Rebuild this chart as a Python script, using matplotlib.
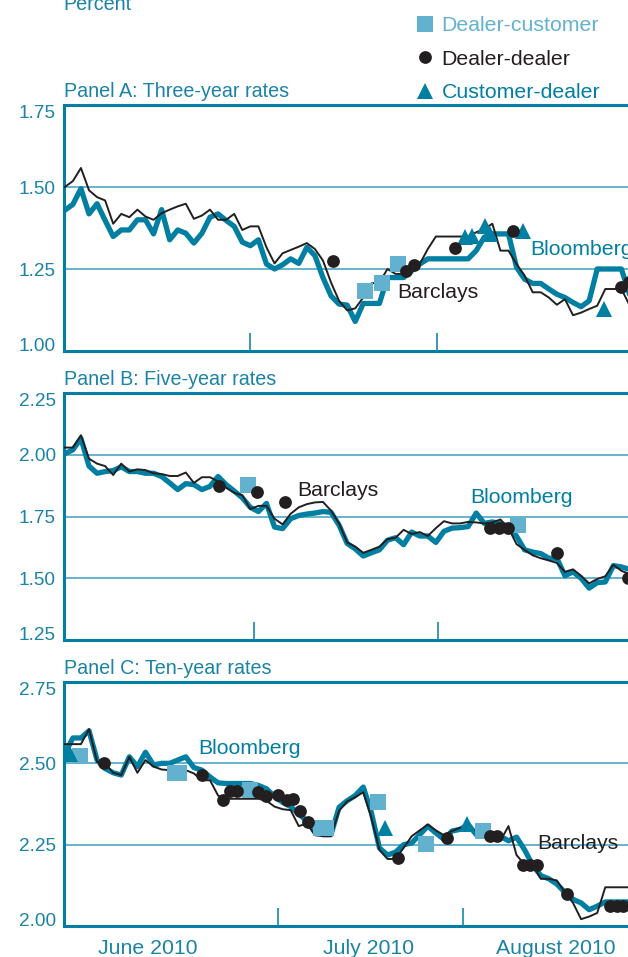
import numpy as np
import matplotlib
matplotlib.use("Agg")
import matplotlib.pyplot as plt

plt.rcParams['font.family'] = ['Liberation Sans', 'DejaVu Sans']

# colours
TEAL = '#007fa3'
LIGHT = '#62b2cf'
GRID = '#3d9fbe'
TEXT = '#1b83a6'
BLACK = '#231f20'

# trading days, late May to mid August 2010
days = np.arange(71)
month_names = ['June 2010', 'July 2010', 'August 2010']
month_label_pos = [10.3, 37.6, 60.8]

# Panel A: three-year rates
a_bloomberg = [1.429, 1.447, 1.495, 1.418, 1.449, 1.398, 1.349, 1.369, 1.369, 1.400,
               1.400, 1.357, 1.431, 1.339, 1.369, 1.359, 1.329, 1.359, 1.408, 1.418,
               1.398, 1.380, 1.332, 1.321, 1.339, 1.265, 1.250, 1.263, 1.281, 1.267,
               1.316, 1.291, 1.224, 1.168, 1.143, 1.140, 1.090, 1.145, 1.145, 1.145,
               1.224, 1.224, 1.224, 1.245, 1.265, 1.281, 1.281, 1.281, 1.281, 1.281,
               1.281, 1.306, 1.347, 1.357, 1.357, 1.357, 1.255, 1.219, 1.206, 1.206,
               1.189, 1.173, 1.163, 1.148, 1.135, 1.153, 1.250, 1.250, 1.250, 1.250,
               1.173]
a_barclays = [1.500, 1.518, 1.558, 1.490, 1.469, 1.459, 1.388, 1.418, 1.408, 1.431,
              1.410, 1.400, 1.420, 1.431, 1.441, 1.449, 1.403, 1.413, 1.431, 1.400,
              1.400, 1.418, 1.369, 1.380, 1.380, 1.316, 1.267, 1.298, 1.308, 1.318,
              1.329, 1.311, 1.276, 1.209, 1.153, 1.124, 1.130, 1.163, 1.206, 1.209,
              1.250, 1.235, 1.235, 1.260, 1.265, 1.311, 1.349, 1.349, 1.349, 1.349,
              1.349, 1.362, 1.372, 1.388, 1.306, 1.306, 1.265, 1.230, 1.179, 1.179,
              1.163, 1.141, 1.158, 1.109, 1.117, 1.128, 1.138, 1.189, 1.189, 1.189,
              1.140]
a_dc_x = [37.2, 39.3, 41.3]
a_dc_y = [1.182, 1.206, 1.265]
a_dd_x = [33.2, 42.3, 43.3, 48.4, 55.5, 68.9, 70.0]
a_dd_y = [1.274, 1.243, 1.263, 1.314, 1.365, 1.194, 1.210]
a_cd_x = [49.6, 50.5, 52.1, 52.7, 56.8, 66.8]
a_cd_y = [1.347, 1.350, 1.380, 1.357, 1.367, 1.128]

# Panel B: five-year rates
b_bloomberg = [2.004, 2.020, 2.066, 1.954, 1.925, 1.932, 1.936, 1.951, 1.932, 1.932,
               1.925, 1.925, 1.912, 1.886, 1.859, 1.883, 1.879, 1.859, 1.872, 1.912,
               1.879, 1.853, 1.826, 1.787, 1.770, 1.803, 1.707, 1.701, 1.741, 1.754,
               1.760, 1.764, 1.770, 1.767, 1.715, 1.641, 1.619, 1.590, 1.603, 1.615,
               1.654, 1.664, 1.636, 1.687, 1.671, 1.671, 1.645, 1.690, 1.703, 1.705,
               1.709, 1.764, 1.722, 1.728, 1.722, 1.709, 1.670, 1.615, 1.606, 1.600,
               1.581, 1.581, 1.510, 1.526, 1.500, 1.460, 1.482, 1.485, 1.551, 1.546,
               1.536]
b_barclays = [2.029, 2.029, 2.079, 1.984, 1.964, 1.954, 1.918, 1.964, 1.932, 1.941,
              1.938, 1.925, 1.922, 1.914, 1.914, 1.928, 1.886, 1.909, 1.909, 1.892,
              1.866, 1.846, 1.836, 1.780, 1.793, 1.793, 1.741, 1.718, 1.761, 1.787,
              1.800, 1.807, 1.809, 1.774, 1.722, 1.645, 1.628, 1.603, 1.615, 1.628,
              1.658, 1.664, 1.696, 1.679, 1.687, 1.671, 1.703, 1.731, 1.722, 1.722,
              1.728, 1.726, 1.722, 1.726, 1.738, 1.703, 1.638, 1.615, 1.593, 1.581,
              1.572, 1.562, 1.526, 1.536, 1.510, 1.479, 1.497, 1.508, 1.555, 1.530,
              1.517]
b_dc_x = [22.7, 56.2]
b_dc_y = [1.879, 1.714]
b_dd_x = [19.15, 23.8, 27.3, 52.7, 53.8, 54.9, 61.0, 69.8]
b_dd_y = [1.875, 1.849, 1.809, 1.703, 1.703, 1.703, 1.604, 1.500]
b_cd_x = []
b_cd_y = []

# Panel C: ten-year rates
c_bloomberg = [2.529, 2.578, 2.578, 2.600, 2.510, 2.484, 2.471, 2.464, 2.520, 2.490,
               2.534, 2.495, 2.500, 2.500, 2.510, 2.520, 2.487, 2.479, 2.458, 2.440,
               2.438, 2.438, 2.438, 2.438, 2.432, 2.422, 2.398, 2.380, 2.367, 2.344,
               2.323, 2.297, 2.281, 2.281, 2.365, 2.385, 2.401, 2.427, 2.349, 2.240,
               2.218, 2.227, 2.250, 2.255, 2.281, 2.307, 2.286, 2.266, 2.292, 2.297,
               2.312, 2.281, 2.276, 2.273, 2.276, 2.262, 2.273, 2.234, 2.187, 2.155,
               2.145, 2.129, 2.103, 2.082, 2.071, 2.050, 2.061, 2.074, 2.074, 2.074,
               2.074]
c_barclays = [2.559, 2.559, 2.559, 2.605, 2.505, 2.500, 2.471, 2.464, 2.520, 2.471,
              2.510, 2.490, 2.481, 2.479, 2.479, 2.479, 2.469, 2.448, 2.448, 2.401,
              2.391, 2.391, 2.391, 2.391, 2.391, 2.385, 2.367, 2.359, 2.356, 2.307,
              2.315, 2.279, 2.276, 2.276, 2.354, 2.383, 2.396, 2.411, 2.333, 2.234,
              2.206, 2.206, 2.240, 2.276, 2.294, 2.312, 2.294, 2.279, 2.292, 2.302,
              2.297, 2.292, 2.281, 2.271, 2.262, 2.307, 2.218, 2.189, 2.189, 2.145,
              2.145, 2.140, 2.103, 2.071, 2.021, 2.029, 2.040, 2.119, 2.119, 2.119,
              2.119]
c_dc_x = [1.86, 13.6, 14.2, 23.0, 31.8, 32.4, 38.8, 44.8, 51.8]
c_dc_y = [2.524, 2.471, 2.471, 2.419, 2.302, 2.302, 2.380, 2.252, 2.292]
c_dd_x = [4.84, 16.96, 19.6, 20.5, 21.4, 23.98, 25.0, 26.4, 27.5, 28.3, 29.1, 30.1,
          41.3, 47.4, 52.7, 53.6, 56.8, 57.7, 58.5, 62.2, 67.6, 68.4, 69.2]
c_dd_y = [2.500, 2.464, 2.388, 2.415, 2.415, 2.411, 2.401, 2.404, 2.388, 2.391, 2.354, 2.321,
          2.208, 2.271, 2.278, 2.276, 2.189, 2.189, 2.189, 2.098, 2.061, 2.061, 2.061]
c_cd_x = [0.6, 39.7, 49.8]
c_cd_y = [2.530, 2.302, 2.312]

W, H = 628.0, 957.0
fig = plt.figure(figsize=(W / 100, H / 100), dpi=100)


def panel(top, bottom, title, bloom, barc, dc, dd, cd, ylim, month_ticks, notes):
    ax = fig.add_axes([64 / W, 1 - bottom / H, 580 / W, (bottom - top) / H])
    ax.plot(days, bloom, color=TEAL, lw=3.8, zorder=3)
    ax.plot(days, barc, color=BLACK, lw=1.4, zorder=4)
    h_dc, = ax.plot(dc[0], dc[1], ls='none', marker='s', ms=11.5, mew=0, color=LIGHT, zorder=5)
    h_dd, = ax.plot(dd[0], dd[1], ls='none', marker='o', ms=9.2, mew=0, color=BLACK, zorder=6)
    h_cd, = ax.plot(cd[0], cd[1], ls='none', marker='^', ms=11, mew=0, color=TEAL, zorder=5)

    ax.set_xlim(-0.1, 71.8)
    ax.set_ylim(*ylim)
    yt = np.arange(ylim[0], ylim[1] + 0.01, 0.25)
    ax.set_yticks(yt, ['%.2f' % v for v in yt])
    labs = ax.get_yticklabels()
    labs[0].set_va('baseline')
    labs[-1].set_va('top')
    ax.tick_params(axis='y', length=0, pad=6, labelsize=13.7, labelcolor=TEXT)
    ax.yaxis.grid(True, color=GRID, lw=1.1)
    ax.set_axisbelow(True)

    ax.set_xticks(month_ticks, [])
    ax.tick_params(axis='x', which='major', direction='in', length=13, width=1.1, color=TEAL)

    for s in ['top', 'left', 'bottom']:
        ax.spines[s].set_color(TEAL)
        ax.spines[s].set_linewidth(2.2)
    ax.spines['right'].set_visible(False)

    ax.set_title(title, loc='left', pad=5.8, fontsize=14.2, color=TEXT)
    for x, y, s, c in notes:
        ax.text(x, y, s, color=c, fontsize=15.3, va='center', ha='left', zorder=7)
    return ax, (h_dc, h_dd, h_cd)


ax_a, handles = panel(105, 351, 'Panel A: Three-year rates', a_bloomberg, a_barclays,
                      (a_dc_x, a_dc_y), (a_dd_x, a_dd_y), (a_cd_x, a_cd_y),
                      (1.0, 1.75), [23.0, 46.1],
                      [(41.2, 1.177, 'Barclays', BLACK), (57.7, 1.308, 'Bloomberg', TEAL)])
ax_b, _ = panel(393, 640, 'Panel B: Five-year rates', b_bloomberg, b_barclays,
                (b_dc_x, b_dc_y), (b_dd_x, b_dd_y), (b_cd_x, b_cd_y),
                (1.25, 2.25), [23.5, 46.3],
                [(28.8, 1.857, 'Barclays', BLACK), (50.2, 1.825, 'Bloomberg', TEAL)])
ax_c, _ = panel(682, 926, 'Panel C: Ten-year rates', c_bloomberg, c_barclays,
                (c_dc_x, c_dc_y), (c_dd_x, c_dd_y), (c_cd_x, c_cd_y),
                (2.0, 2.75), [26.4, 49.4],
                [(16.5, 2.547, 'Bloomberg', TEAL), (58.6, 2.255, 'Barclays', BLACK)])

ax_c.set_xticks(month_label_pos, month_names, minor=True)
ax_c.tick_params(axis='x', which='minor', length=0, pad=9, labelsize=15.3, labelcolor=TEXT)

fig.text(63 / W, 1 - 10 / H, 'Percent', fontsize=14.2, color=TEXT, va='baseline', ha='left')

fig.legend(handles, ['Dealer-customer', 'Dealer-dealer', 'Customer-dealer'],
           loc='upper left', bbox_to_anchor=(414 / W, 1 - 16 / H),
           frameon=False, fontsize=15.3, labelcolor=[LIGHT, BLACK, TEAL],
           handlelength=1.0, handletextpad=0.3, labelspacing=0.69,
           borderpad=0, borderaxespad=0, numpoints=1)

fig.savefig('out.png', dpi=100)
